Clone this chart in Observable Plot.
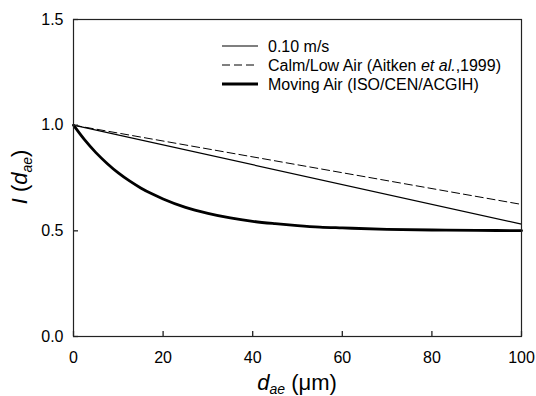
<!DOCTYPE html>
<html>
<head>
<meta charset="utf-8">
<script src="https://cdn.jsdelivr.net/npm/d3@7"></script>
<script src="https://cdn.jsdelivr.net/npm/@observablehq/plot@0.6"></script>
<style>
  html, body { margin: 0; padding: 0; background: white; }
  #chart svg { display: block; }
</style>
</head>
<body>
<div id="chart"></div>
<script>
// ---- data ----
const xTicks = [0, 20, 40, 60, 80, 100];
const yTicks = [0, 0.5, 1.0, 1.5];
const yTickLabels = ["0.0", "0.5", "1.0", "1.5"];

// 0.10 m/s (thin solid)
const lowSpeedX = [0, 100];
const lowSpeedY = [1.0, 0.532];

// Calm/Low Air (Aitken et al., 1999) (dashed)
const calmX = [0, 100];
const calmY = [1.0, 0.625];

// Moving Air (ISO/CEN/ACGIH) (thick)
const movingX = [0, 2.5, 5, 7.5, 10, 12.5, 15, 17.5, 20, 25, 30, 35, 40, 45, 50, 55, 60, 70, 80, 90, 100];
const movingY = [1.0, 0.930, 0.870, 0.819, 0.774, 0.736, 0.703, 0.675, 0.651, 0.611, 0.583, 0.561, 0.545, 0.534, 0.525, 0.518, 0.514, 0.507, 0.504, 0.502, 0.501];

const seriesNames = ["0.10 m/s", "Calm/Low Air (Aitken ", "Moving Air (ISO/CEN/ACGIH)"];

const toRows = (xs, ys) => xs.map((x, i) => ({x, y: ys[i]}));
const lowRows = toRows(lowSpeedX, lowSpeedY);
const calmRows = toRows(calmX, calmY);
const movingRows = toRows(movingX, movingY);

const W = 536, H = 396, ML = 73, MR = 15, MT = 19, MB = 60;
const tickLen = 5;

const chart = Plot.plot({
  width: W,
  height: H,
  marginLeft: ML,
  marginRight: MR,
  marginTop: MT,
  marginBottom: MB,
  style: {fontFamily: "'Liberation Sans', Arial, sans-serif", fontSize: "16px", color: "black", background: "white"},
  x: {domain: [0, 100]},
  y: {domain: [0, 1.5]},
  marks: [
    Plot.line(calmRows, {x: "x", y: "y", stroke: "black", strokeWidth: 1, strokeDasharray: "8,4"}),
    Plot.line(lowRows, {x: "x", y: "y", stroke: "black", strokeWidth: 1.2}),
    Plot.line(movingRows, {x: "x", y: "y", stroke: "black", strokeWidth: 2.8, curve: "monotone-x"}),
    // inward tick marks
    Plot.tickX(xTicks, {x: d => d, insetTop: H - MT - MB - tickLen, stroke: "#222", strokeWidth: 1.3}),
    Plot.tickY(yTicks, {y: d => d, insetRight: W - ML - MR - tickLen, stroke: "#222", strokeWidth: 1.3}),
    Plot.frame({stroke: "#222", strokeWidth: 1.2}),
    // labels
    Plot.axisX({ticks: xTicks, tickSize: 0, tickPadding: 15, tickFormat: d => String(d), label: null, fontSize: 16}),
    Plot.axisY({ticks: yTicks, tickSize: 0, tickPadding: 10, tickFormat: (d, i) => yTickLabels[i], label: null, fontSize: 16})
  ]
});

document.getElementById("chart").appendChild(chart);

// ---- titles and legend (rich text) ----
const svg = d3.select(chart);
const font = "'Liberation Sans', Arial, sans-serif";

// x title: d_ae (μm)
const xt = svg.append("text")
  .attr("x", 297).attr("y", 390)
  .attr("text-anchor", "middle")
  .attr("font-family", font).attr("font-size", 22).attr("fill", "black");
xt.append("tspan").attr("font-style", "italic").text("d");
xt.append("tspan").attr("font-style", "italic").attr("font-size", 14).attr("dy", 4).text("ae");
xt.append("tspan").attr("dy", -4).text(" (\u03bcm)");

// y title: I (d_ae)
const yt = svg.append("text")
  .attr("transform", "translate(27,177) rotate(-90)")
  .attr("text-anchor", "middle")
  .attr("font-family", font).attr("font-size", 22).attr("fill", "black");
yt.append("tspan").attr("font-style", "italic").text("I");
yt.append("tspan").text(" (");
yt.append("tspan").attr("font-style", "italic").text("d");
yt.append("tspan").attr("font-style", "italic").attr("font-size", 14).attr("dy", 5).text("ae");
yt.append("tspan").attr("dy", -5).text(")");

// legend
const legRows = [
  {y: 46, w: 1.2, dash: null},
  {y: 65, w: 1, dash: "8,4"},
  {y: 84, w: 2.8, dash: null}
];
const leg = svg.append("g").attr("font-family", font).attr("font-size", 16).attr("fill", "black").attr("text-anchor", "start");
legRows.forEach((r, i) => {
  leg.append("line")
    .attr("x1", 222).attr("x2", 258).attr("y1", r.y).attr("y2", r.y)
    .attr("stroke", "black").attr("stroke-width", r.w)
    .attr("stroke-dasharray", r.dash);
  const t = leg.append("text").attr("x", 268).attr("y", r.y).attr("dy", "0.35em").attr("text-anchor", "start");
  if (i === 1) {
    t.append("tspan").text(seriesNames[1]);
    t.append("tspan").attr("font-style", "italic").text("et al.");
    t.append("tspan").text(",1999)");
  } else {
    t.text(seriesNames[i]);
  }
});
</script>
</body>
</html>
